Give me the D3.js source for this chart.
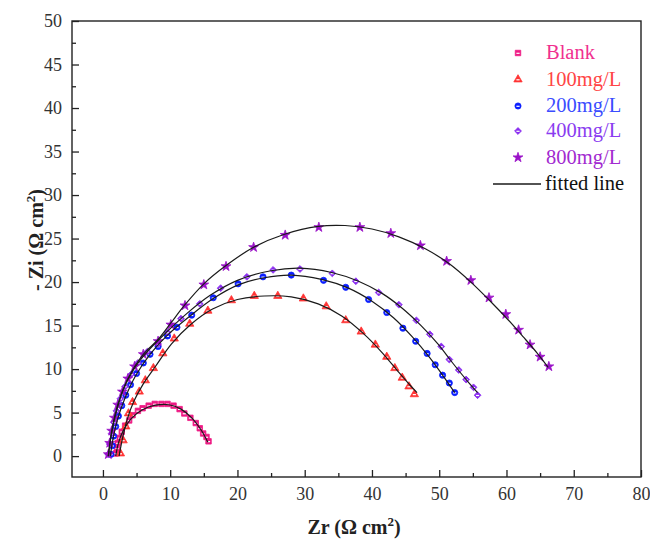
<!DOCTYPE html>
<html lang="en">
<head>
  <meta charset="UTF-8">
  <script src="https://d3js.org/d3.v7.min.js"></script>
  <title>Nyquist plot</title>
  <style>
    body { margin: 0; background: #fff; }
    text { font-family: "Liberation Serif", "Times New Roman", serif; }
  </style>
</head>
<body>
  <svg id="chart" width="650" height="540"></svg>
  <script>
    // measured points [Zr, -Zi]
    const blankPts = [[1.9,0.3],[2.1,0.9],[2.2,1.5],[2.5,2.1],[2.8,2.8],[3.3,3.5],[3.9,4.1],[4.4,4.7],[5.2,5.2],[5.9,5.5],[6.8,5.8],[7.7,6.0],[8.7,6.0],[9.6,6.0],[10.5,5.8],[11.4,5.4],[12.1,4.9],[13.0,4.4],[13.8,3.8],[14.4,3.2],[14.9,2.6],[15.4,2.2],[15.7,1.7]];
    const mg100Pts = [[2.6,0.3],[3.0,1.8],[3.4,3.4],[3.8,4.9],[4.4,6.2],[5.4,7.4],[6.3,8.7],[7.5,10.1],[8.9,11.8],[10.6,13.5],[12.9,15.2],[15.6,16.7],[19.1,17.9],[22.5,18.4],[26.0,18.4],[29.8,18.1],[33.2,17.2],[36.1,15.6],[38.4,14.3],[40.5,12.8],[42.2,11.4],[43.4,10.1],[44.5,9.0],[45.5,8.0],[46.3,7.1]];
    const mg200Pts = [[1.2,0.2],[1.4,1.2],[1.6,2.3],[1.9,3.4],[2.3,4.6],[2.8,5.8],[3.4,7.0],[4.1,8.2],[5.0,9.5],[6.0,10.7],[7.0,11.7],[8.2,12.6],[9.6,13.8],[11.0,14.8],[13.2,16.2],[16.4,18.2],[20.1,19.8],[23.8,20.6],[28.0,20.8],[32.8,20.2],[36.1,19.4],[39.5,18.0],[42.2,16.5],[44.6,14.7],[46.5,13.2],[48.2,11.8],[49.4,10.5],[50.5,9.3],[51.5,8.4],[52.3,7.3]];
    const mg400Pts = [[0.8,0.2],[1.0,1.4],[1.3,2.6],[1.6,3.9],[2.0,5.2],[2.6,6.6],[3.3,8.0],[4.2,9.4],[5.2,10.7],[6.6,12.0],[8.2,12.9],[9.6,14.2],[11.6,15.8],[14.4,17.5],[17.5,19.3],[21.4,20.6],[25.3,21.4],[29.3,21.5],[34.1,21.0],[37.6,20.1],[41.0,18.8],[44.0,17.4],[46.6,15.6],[48.6,14.0],[50.3,12.6],[51.5,11.1],[52.9,9.9],[54.0,8.8],[55.1,7.9],[55.7,7.0]];
    const mg800Pts = [[0.8,0.2],[1.0,1.5],[1.3,2.9],[1.7,4.4],[2.2,5.9],[2.9,7.4],[3.7,8.9],[4.7,10.3],[6.0,11.7],[8.2,13.2],[10.1,15.1],[12.2,17.3],[15.0,19.7],[18.3,21.8],[22.4,24.0],[27.1,25.4],[32.1,26.3],[38.2,26.3],[42.8,25.6],[47.2,24.2],[51.1,22.4],[54.7,20.2],[57.4,18.2],[59.9,16.3],[61.8,14.5],[63.5,12.8],[65.0,11.4],[66.3,10.3]];

    // fitted curves
    const blankFit = [[1.9,0],[2.3,1.5],[3.0,2.9],[4.2,4.3],[5.8,5.3],[7.8,5.85],[9.8,5.9],[11.6,5.4],[13.2,4.4],[14.6,3.0],[15.6,1.6]];
    const mg100Fit = [[2.4,0],[2.9,2.0],[3.6,4.2],[4.6,6.3],[6.0,8.3],[7.8,10.3],[10.2,12.9],[13.0,15.1],[16.3,16.9],[20.0,18.0],[24.0,18.4],[28.0,18.3],[32.0,17.5],[35.5,16.1],[38.7,14.1],[41.5,11.9],[43.8,9.8],[45.6,8.2],[46.7,7.3]];
    const mg200Fit = [[1.1,0],[1.5,2.0],[2.2,4.3],[3.3,6.7],[4.9,9.3],[7.0,11.7],[9.6,13.9],[12.8,16.0],[16.4,18.1],[20.2,19.7],[24.0,20.5],[28.0,20.8],[32.5,20.3],[36.5,19.3],[40.0,17.8],[43.2,15.9],[46.0,13.7],[48.5,11.4],[50.6,9.2],[52.3,7.3]];
    const mg400Fit = [[0.8,0],[1.2,2.2],[1.9,4.8],[3.0,7.6],[4.6,10.0],[6.6,12.0],[9.4,14.2],[12.5,16.4],[16.0,18.5],[20.0,20.2],[25.0,21.3],[29.3,21.6],[34.0,21.1],[38.0,20.1],[41.5,18.7],[44.5,17.0],[47.3,15.0],[49.8,12.9],[52.0,10.7],[54.0,8.8],[55.7,7.3]];
    const mg800Fit = [[0.8,0],[1.3,2.9],[2.2,5.9],[3.7,8.9],[6.0,11.7],[8.2,13.4],[10.1,15.3],[12.2,17.4],[15.0,19.8],[18.3,21.9],[22.4,24.0],[27.0,25.5],[32.0,26.4],[36.0,26.5],[40.0,26.1],[44.0,25.2],[48.0,23.8],[51.5,22.1],[54.7,20.0],[57.6,17.8],[60.2,15.7],[62.5,13.7],[64.5,11.9],[66.2,10.2]];

    const seriesNames = ["Blank", "100mg/L", "200mg/L", "400mg/L", "800mg/L"];
    const xTickValues = [0, 10, 20, 30, 40, 50, 60, 70, 80];
    const yTickValues = [0, 5, 10, 15, 20, 25, 30, 35, 40, 45, 50];

    const series = [
      { name: seriesNames[0], pts: blankPts, fit: blankFit, color: "#ee1a84", text: "#f0308f", symbol: d3.symbolSquare, size: 30 },
      { name: seriesNames[1], pts: mg100Pts, fit: mg100Fit, color: "#ff3434", text: "#ff4545", symbol: d3.symbolTriangle, size: 30 },
      { name: seriesNames[2], pts: mg200Pts, fit: mg200Fit, color: "#0a1eff", text: "#3a4cff", symbol: d3.symbolCircle, size: 30 },
      { name: seriesNames[3], pts: mg400Pts, fit: mg400Fit, color: "#8a2cf0", text: "#8a3cf0", symbol: d3.symbolDiamond2, size: 30 },
      { name: seriesNames[4], pts: mg800Pts, fit: mg800Fit, color: "#9a12c8", text: "#a22ad0", symbol: d3.symbolStar, size: 30 }
    ];

    const svg = d3.select("#chart");
    const xScale = d3.scaleLinear().domain([-4.6, 80]).range([72, 641]);
    const yScale = d3.scaleLinear().domain([-2.4, 50]).range([477, 21]);

    // frame
    svg.append("rect")
      .attr("x", 72).attr("y", 21)
      .attr("width", 641 - 72).attr("height", 477 - 21)
      .attr("fill", "none").attr("stroke", "#222").attr("stroke-width", 1.4);

    // axes, ticks pointing inwards
    const xAxis = d3.axisBottom(xScale).tickValues(xTickValues).tickSizeInner(-7).tickSizeOuter(0).tickPadding(10);
    const xMinor = d3.axisBottom(xScale).tickValues([5, 15, 25, 35, 45, 55, 65, 75]).tickSizeInner(-4).tickSizeOuter(0).tickFormat("");
    const yAxis = d3.axisLeft(yScale).tickValues(yTickValues).tickSizeInner(-7).tickSizeOuter(0).tickPadding(10);
    const yMinor = d3.axisLeft(yScale).tickValues(yTickValues.slice(0, -1).map(v => v + 2.5)).tickSizeInner(-4).tickSizeOuter(0).tickFormat("");

    [xAxis, xMinor].forEach(ax => {
      svg.append("g").attr("transform", "translate(0,477)").call(ax);
    });
    [yAxis, yMinor].forEach(ax => {
      svg.append("g").attr("transform", "translate(72,0)").call(ax);
    });
    svg.selectAll(".domain").remove();
    svg.selectAll(".tick line").attr("stroke", "#222").attr("stroke-width", 1.3);
    svg.selectAll(".tick text")
      .attr("fill", "#333")
      .style("font-family", "'Liberation Serif', serif")
      .style("font-size", "18px");

    // axis titles
    const xt = svg.append("text")
      .attr("x", 354).attr("y", 534)
      .attr("text-anchor", "middle")
      .style("font-size", "20px").style("font-weight", "bold").attr("fill", "#222");
    xt.append("tspan").text("Zr (Ω cm");
    xt.append("tspan").attr("dy", -8).style("font-size", "13px").text("2");
    xt.append("tspan").attr("dy", 8).text(")");

    const yt = svg.append("text")
      .attr("transform", "translate(43,240) rotate(-90)")
      .attr("text-anchor", "middle")
      .style("font-size", "20px").style("font-weight", "bold").attr("fill", "#222");
    yt.append("tspan").text("- Zi (Ω cm");
    yt.append("tspan").attr("dy", -8).style("font-size", "13px").text("2");
    yt.append("tspan").attr("dy", 8).text(")");

    const drawMarker = (g, s) => {
      g.append("path")
        .attr("d", d3.symbol().type(s.symbol).size(s.size)())
        .attr("fill", s.color)
        .attr("stroke", s.color)
        .attr("stroke-width", 0.8);
      if (s.symbol !== d3.symbolStar) {
        g.append("line")
          .attr("x1", -1.6).attr("x2", 1.6)
          .attr("y1", 0.3).attr("y2", 0.3)
          .attr("stroke", "#fff").attr("stroke-width", 1.2);
      }
    };

    // measured points
    series.forEach(s => {
      svg.append("g").selectAll("g")
        .data(s.pts)
        .enter()
        .append("g")
        .attr("transform", d => `translate(${xScale(d[0])},${yScale(d[1])})`)
        .each(function () { drawMarker(d3.select(this), s); });
    });

    // fitted lines on top
    const fitLine = d3.line()
      .x(d => xScale(d[0]))
      .y(d => yScale(d[1]))
      .curve(d3.curveCatmullRom);
    series.forEach(s => {
      svg.append("path")
        .attr("d", fitLine(s.fit))
        .attr("fill", "none")
        .attr("stroke", "#1a1a1a")
        .attr("stroke-width", 1.2);
    });

    // legend
    const rowY = [53, 79.5, 106, 131, 157.5];
    series.forEach((s, i) => {
      const g = svg.append("g").attr("transform", `translate(518,${rowY[i]})`);
      drawMarker(g, s);
      svg.append("text")
        .attr("x", 546).attr("y", rowY[i] + 6)
        .attr("fill", s.text)
        .style("font-size", "20.5px")
        .text(s.name);
    });
    svg.append("line")
      .attr("x1", 493).attr("x2", 541)
      .attr("y1", 184).attr("y2", 184)
      .attr("stroke", "#1a1a1a").attr("stroke-width", 1.3);
    svg.append("text")
      .attr("x", 545).attr("y", 190)
      .attr("fill", "#111")
      .style("font-size", "20.5px")
      .text("fitted line");
  </script>
</body>
</html>
